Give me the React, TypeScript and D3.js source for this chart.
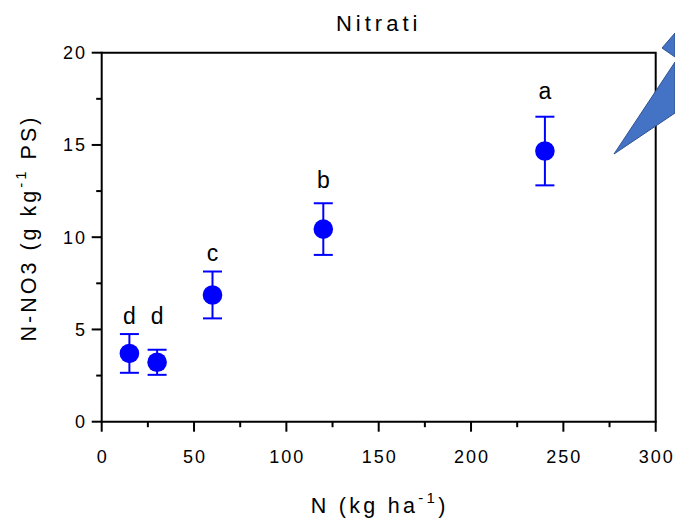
import React from "react";
import * as d3 from "d3";

const doses = [15, 30, 60, 120, 240];
const means = [3.7, 3.22, 6.87, 10.44, 14.67];
const errs = [1.05, 0.68, 1.27, 1.4, 1.86];
const letters = ["d", "d", "c", "b", "a"];
const letterY = [5.3, 5.3, 8.7, 12.65, 17.5];
const xMajor = [0, 50, 100, 150, 200, 250, 300];
const xMinor = [25, 75, 125, 175, 225, 275];
const yMajor = [0, 5, 10, 15, 20];
const yMinor = [2.5, 7.5, 12.5, 17.5];

const W = 675, H = 519;
const FONT = "Liberation Sans, Arial, sans-serif";
const BLUE = "#0000FF";

export default function App() {
  const x = d3.scaleLinear().domain([0, 300]).range([101.7, 655.7]);
  const y = d3.scaleLinear().domain([0, 20]).range([421.7, 52.7]);
  const x0 = x(0), y0 = y(0), x1 = x(300), y1 = y(20);
  return (
    <svg width={W} height={H} style={{ position: "absolute", left: 0, top: 0 }} fontFamily={FONT}>
      <rect width={W} height={H} fill="#fff" />
      {/* frame */}
      <path d={`M${x0},${y1}H${x1}V${y0}`} fill="none" stroke="#000" strokeWidth={2} />
      <line x1={x0} x2={x1 + 1} y1={y0} y2={y0} stroke="#000" strokeWidth={2} />
      <line x1={x0} x2={x0} y1={y1 - 1} y2={y0 + 1} stroke="#000" strokeWidth={2} />
      {/* x ticks */}
      {xMajor.map((v) => (
        <g key={"xm" + v}>
          <line x1={x(v)} x2={x(v)} y1={y0} y2={y0 + 10} stroke="#000" strokeWidth={2} />
          <text x={x(v) + 1} y={463} textAnchor="middle" fontSize={18} letterSpacing={2}>{v}</text>
        </g>
      ))}
      {xMinor.map((v) => (
        <line key={"xn" + v} x1={x(v)} x2={x(v)} y1={y0} y2={y0 + 5.5} stroke="#000" strokeWidth={2} />
      ))}
      {/* y ticks */}
      {yMajor.map((v) => (
        <g key={"ym" + v}>
          <line x1={x0 - 10} x2={x0} y1={y(v)} y2={y(v)} stroke="#000" strokeWidth={2} />
          <text x={87} y={y(v) + 6.5} textAnchor="end" fontSize={18} letterSpacing={2}>{v}</text>
        </g>
      ))}
      {yMinor.map((v) => (
        <line key={"yn" + v} x1={x0 - 5.5} x2={x0} y1={y(v)} y2={y(v)} stroke="#000" strokeWidth={2} />
      ))}
      {/* data */}
      {doses.map((d, i) => {
        const cx = x(d);
        const top = y(means[i] + errs[i]);
        const bot = y(means[i] - errs[i]);
        return (
          <g key={"p" + i}>
            <line x1={cx} x2={cx} y1={top} y2={bot} stroke={BLUE} strokeWidth={2} />
            <line x1={cx - 9.5} x2={cx + 9.5} y1={top} y2={top} stroke={BLUE} strokeWidth={2} />
            <line x1={cx - 9.5} x2={cx + 9.5} y1={bot} y2={bot} stroke={BLUE} strokeWidth={2} />
            <circle cx={cx} cy={y(means[i])} r={9.8} fill={BLUE} />
            <text x={cx} y={y(letterY[i])} textAnchor="middle" fontSize={23}>{letters[i]}</text>
          </g>
        );
      })}
      {/* title */}
      <text x={(x0 + x1) / 2} y={30.5} textAnchor="middle" fontSize={22} letterSpacing={4}>Nitrati</text>
      {/* x label */}
      <text x={(x0 + x1) / 2 + 1} y={513} textAnchor="middle" fontSize={21.5} letterSpacing={3.3}>
        N (kg ha<tspan dy={-10} fontSize={15}>-1</tspan><tspan dy={10}>)</tspan>
      </text>
      {/* y label */}
      <text transform={`translate(36,228) rotate(-90)`} textAnchor="middle" fontSize={21.5} letterSpacing={3}>
        N-NO3 (g kg<tspan dy={-10} fontSize={15}>-1</tspan><tspan dy={10}> PS)</tspan>
      </text>
      {/* callout shape */}
      <polygon points="614,154 675,62 675,113" fill="#4472C4" stroke="#2F528F" strokeWidth={1} />
      <polygon points="662,48 675,33 675,57" fill="#4472C4" stroke="#2F528F" strokeWidth={1} />
    </svg>
  );
}
